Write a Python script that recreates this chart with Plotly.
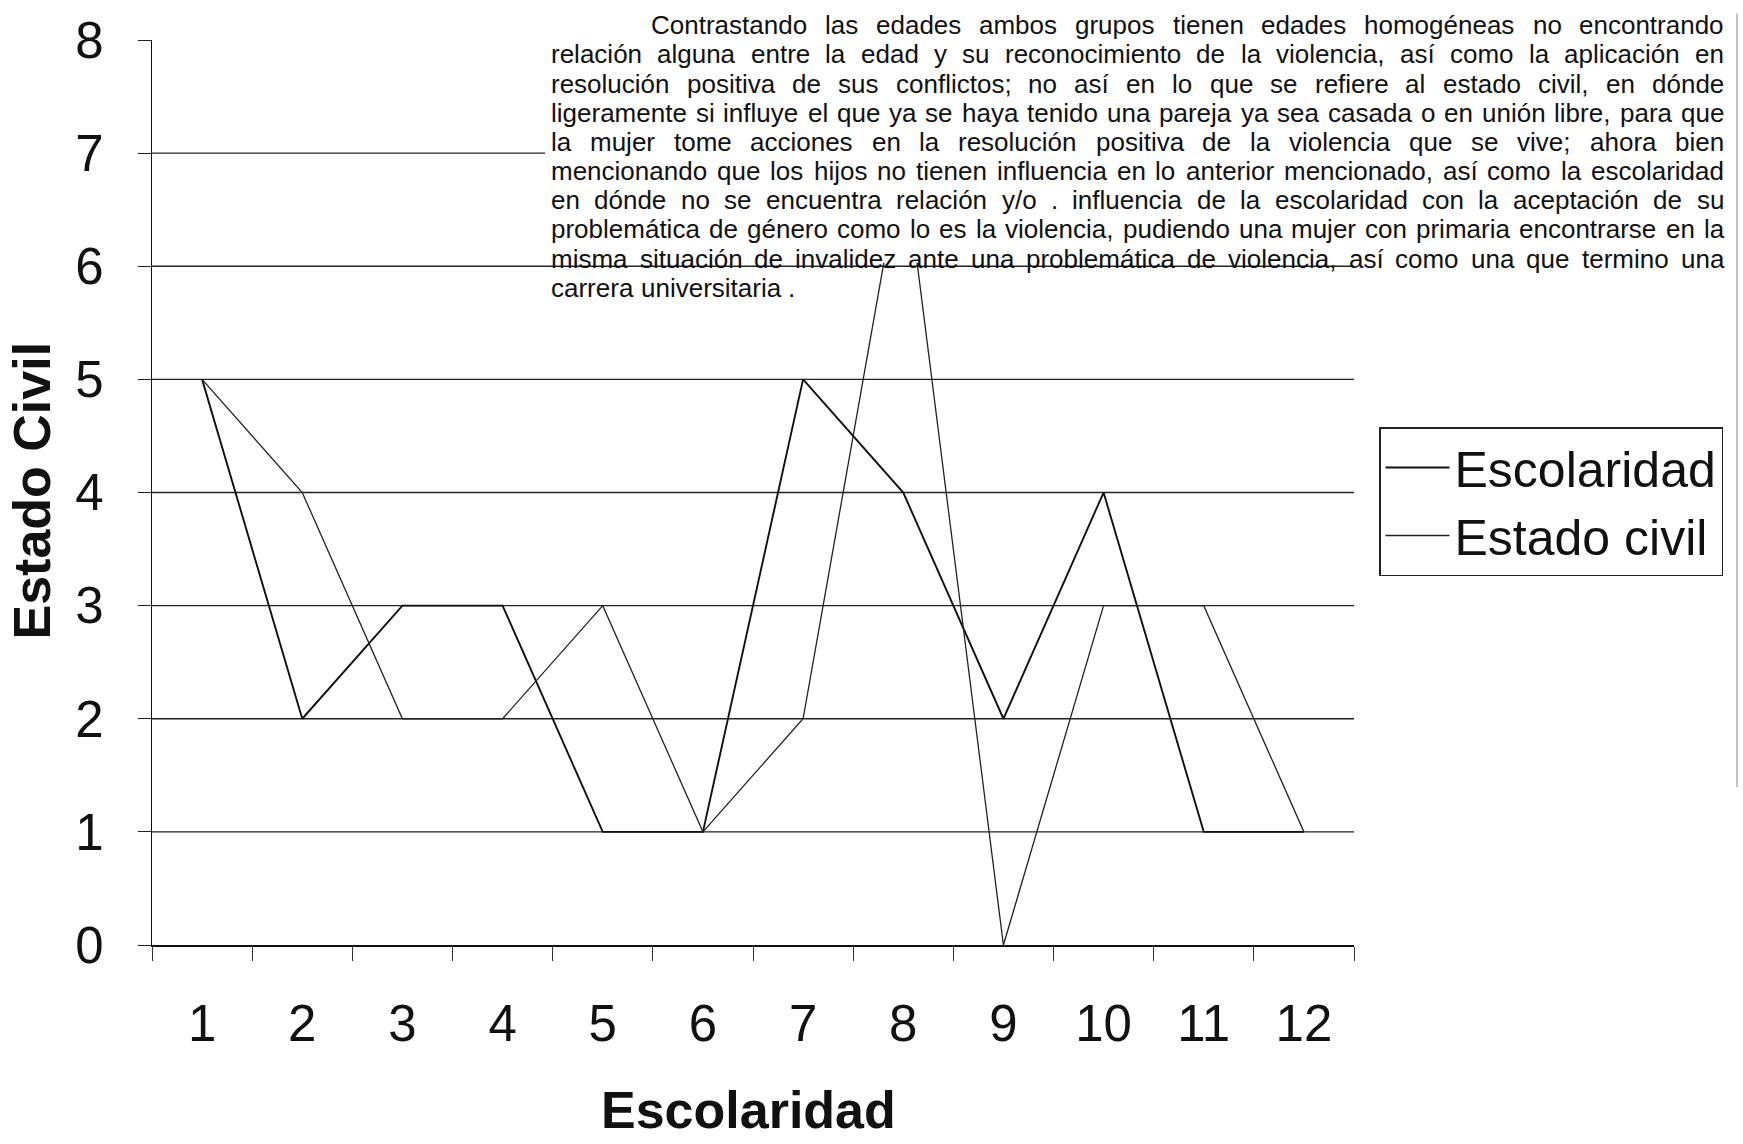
import plotly.graph_objects as go

# ---------------- data ----------------
categories = [str(i) for i in range(1, 13)]
escolaridad = [5, 2, 3, 3, 1, 1, 5, 4, 2, 4, 1, 1]
estado_civil = [5, 4, 2, 2, 3, 1, 2, 7, 0, 3, 3, 1]
y_ticks = list(range(0, 9))
gridline_values = list(range(1, 8))

series_names = ["Escolaridad", "Estado civil"]
x_title = "Escolaridad"
y_title = "Estado Civil"

paragraph_lines = [
    "Contrastando las edades ambos grupos tienen edades homogéneas no encontrando",
    "relación alguna entre la edad y su reconocimiento de la violencia, así como la aplicación en",
    "resolución positiva de sus conflictos; no así en lo que se refiere al estado civil, en dónde",
    "ligeramente si influye el que ya se haya tenido una pareja ya sea casada o en unión libre, para que",
    "la mujer tome acciones en la resolución positiva de la violencia que se vive; ahora bien",
    "mencionando que los hijos no tienen influencia en lo anterior mencionado, así como la escolaridad",
    "en dónde no se encuentra relación y/o . influencia de la escolaridad con la aceptación de su",
    "problemática de género como lo es la violencia, pudiendo una mujer con primaria encontrarse en la",
    "misma situación de invalidez ante una problemática de violencia, así como una que termino una",
    "carrera universitaria .",
]

# ---------------- geometry (pixels) ----------------
W, H = 1743, 1144
L, R, T, B = 152, 1354, 27, 945
PW, PH = R - L, B - T
FONT = "Liberation Sans, Arial, sans-serif"


def px(x):
    return (x - L) / PW


def py(y):
    return (B - y) / PH


# Arial / Helvetica advance widths (per 1000 em) for justification
CW = {" ": 278, ",": 278, ".": 278, ";": 278, "/": 278, ":": 278,
      "a": 556, "b": 556, "c": 500, "d": 556, "e": 556, "f": 278, "g": 556,
      "h": 556, "i": 222, "j": 222, "k": 500, "l": 222, "m": 833, "n": 556,
      "o": 556, "p": 556, "q": 556, "r": 333, "s": 500, "t": 278, "u": 556,
      "v": 500, "w": 722, "x": 500, "y": 500, "z": 500,
      "á": 556, "é": 556, "í": 278, "ó": 556, "ú": 556, "ñ": 556, "C": 722}


def tw(s, size):
    return sum(CW.get(ch, 667) for ch in s) * size / 1000.0


fig = go.Figure()

fig.add_trace(go.Scatter(x=categories, y=escolaridad, mode="lines",
                         name=series_names[0],
                         line=dict(color="#111111", width=1.9)))
fig.add_trace(go.Scatter(x=categories, y=estado_civil, mode="lines",
                         name=series_names[1],
                         line=dict(color="#222222", width=1.3)))

shapes = []
for v in gridline_values:
    shapes.append(dict(type="line", xref="paper", yref="y", x0=0, x1=1,
                       y0=v, y1=v, layer="below",
                       line=dict(color="#222222", width=1.3)))
# white paper patch of the pasted paragraph
shapes.append(dict(type="rect", xref="paper", yref="y", x0=px(545), x1=px(1730),
                   y0=6.03, y1=8.3, layer="above", fillcolor="white",
                   line=dict(width=0)))
# scan border at the right
shapes.append(dict(type="line", xref="paper", yref="paper", x0=px(1737), x1=px(1737),
                   y0=py(0), y1=py(785), layer="above",
                   line=dict(color="#9a9a9a", width=1.2)))

annotations = []
# justified paragraph, word by word
size = 26
left0, right0 = 550, 1723
for i, line in enumerate(paragraph_lines):
    words = line.split()
    left = left0 + (100 if i == 0 else 0)
    widths = [tw(w, size) for w in words]
    last = i == len(paragraph_lines) - 1
    if last or len(words) < 2:
        gap = tw(" ", size)
    else:
        gap = max((right0 - left - sum(widths)) / (len(words) - 1), 3)
    ycen = 12 + 29.6 * i
    xpos = left
    for w, wd in zip(words, widths):
        annotations.append(dict(x=px(xpos), y=py(ycen), xref="paper", yref="paper",
                                xanchor="left", yanchor="middle", showarrow=False,
                                text=w, borderpad=0,
                                font=dict(family=FONT, size=size, color="#111111")))
        xpos += wd + gap

annotations.append(dict(x=px(748), y=py(1112), xref="paper", yref="paper",
                        xanchor="center", yanchor="middle", showarrow=False,
                        text=x_title,
                        font=dict(family=FONT, size=52, color="#111111", weight="bold")))
annotations.append(dict(x=px(32), y=py(484), xref="paper", yref="paper",
                        xanchor="center", yanchor="middle", showarrow=False,
                        text=y_title, textangle=-90,
                        font=dict(family=FONT, size=52, color="#111111", weight="bold")))

fig.update_layout(
    width=W, height=H, autosize=False,
    margin=dict(l=L, r=W - R, t=T, b=H - B, pad=0),
    paper_bgcolor="white", plot_bgcolor="white",
    font=dict(family=FONT, color="#111111"),
    shapes=shapes, annotations=annotations,
    showlegend=True,
    legend=dict(xref="container", yref="container",
                x=1379 / W, y=1 - 427 / H, xanchor="left", yanchor="top",
                font=dict(family=FONT, size=50, color="#111111"),
                bordercolor="#222222", borderwidth=1.5, bgcolor="white",
                itemwidth=64, tracegroupgap=0),
    xaxis=dict(type="category", range=[-0.5, len(categories) - 0.5],
               showgrid=False, zeroline=False,
               showline=True, linecolor="#111111", linewidth=1.5,
               ticks="outside", tickson="boundaries", ticklen=14,
               tickcolor="#333333", tickwidth=1,
               tickfont=dict(family=FONT, size=51, color="#111111"),
               ticklabelstandoff=33),
    yaxis=dict(range=[0, 8.0001], tickvals=y_ticks, showgrid=False, zeroline=False,
               showline=True, linecolor="#111111", linewidth=1.2,
               ticks="outside", ticklen=13, tickcolor="#222222", tickwidth=1.2,
               ticklabeloverflow="allow",
               tickfont=dict(family=FONT, size=51, color="#111111"),
               ticklabelstandoff=24),
)

fig.write_html("out.html",
               config={"displayModeBar": False},
               post_script="document.body.style.margin='0';document.body.style.overflow='hidden';")
